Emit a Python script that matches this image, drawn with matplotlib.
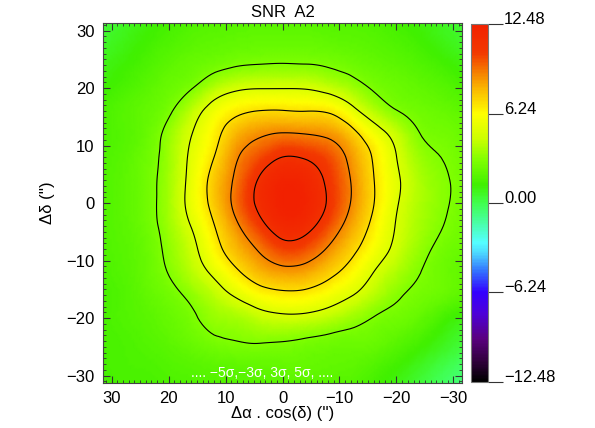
import numpy as np
import matplotlib
matplotlib.use('Agg')
import matplotlib.pyplot as plt
import matplotlib.tri as mtri
from matplotlib.colors import LinearSegmentedColormap, Normalize
from matplotlib.ticker import MultipleLocator

plt.rcParams['font.family'] = ['Liberation Sans', 'DejaVu Sans']

# map nodes (arcsec): ra offset increases to the left on the plot
ra_off = np.arange(-32, 33, 4)
dec_off = np.arange(32, -33, -4)

# SNR values, one row per dec offset (top -> bottom),
# columns follow ra_off (-32 ... +32)
snr_rows = [
    [0.3, 0.65, 1.0, 1.35, 1.6, 1.74, 1.81, 1.86, 1.86, 1.86, 1.83, 1.77, 1.65, 1.35, 1.0, 0.6, 0.3],       # +32
    [0.6, 0.95, 1.35, 1.65, 1.9, 2.04, 2.16, 2.27, 2.28, 2.26, 2.19, 2.09, 1.94, 1.65, 1.3, 0.9, 0.55],      # +28
    [1.0, 1.4, 1.75, 2.03, 2.26, 2.57, 2.89, 3.05, 3.09, 3.04, 2.92, 2.63, 2.32, 2.04, 1.6, 1.2, 0.85],      # +24
    [1.5, 1.9, 2.17, 2.43, 2.87, 3.7, 4.44, 4.89, 4.94, 4.93, 4.73, 4.03, 2.93, 2.37, 1.95, 1.55, 1.15],     # +20
    [2.01, 2.32, 2.57, 3.05, 4.07, 5.6, 6.82, 6.98, 7.06, 7.03, 6.65, 5.72, 4.19, 2.8, 2.19, 1.85, 1.5],     # +16
    [2.3, 2.67, 3.04, 4.4, 5.91, 7.6, 8.69, 9.0, 9.11, 8.77, 8.01, 6.5, 4.95, 3.4, 2.3, 1.82, 1.56],         # +12
    [2.53, 2.98, 3.56, 5.01, 6.85, 8.6, 10.1, 10.85, 11.0, 10.08, 8.88, 7.0, 5.3, 3.55, 2.49, 1.93, 1.64],   # +8
    [2.63, 3.17, 3.89, 5.28, 7.04, 8.97, 10.7, 11.96, 12.2, 11.17, 9.34, 7.55, 5.5, 3.65, 2.56, 2.0, 1.68],  # +4
    [2.63, 3.18, 3.9, 5.15, 7.04, 8.96, 10.85, 12.2, 12.39, 11.38, 9.5, 7.53, 5.55, 3.7, 2.57, 2.0, 1.7],    # 0
    [2.53, 3.03, 3.75, 4.9, 6.6, 8.35, 10.1, 11.54, 11.79, 10.5, 8.8, 6.95, 5.05, 3.55, 2.5, 1.98, 1.67],    # -4
    [2.35, 2.7, 3.45, 4.6, 6.0, 7.45, 8.85, 10.05, 10.3, 9.2, 7.95, 6.35, 4.54, 3.3, 2.35, 1.9, 1.62],       # -8
    [2.15, 2.5, 3.05, 3.9, 5.0, 6.4, 7.5, 8.35, 8.5, 7.95, 6.79, 5.36, 4.08, 3.05, 2.3, 1.82, 1.54],         # -12
    [2.0, 2.38, 2.7, 3.2, 4.1, 5.1, 5.95, 6.54, 6.62, 6.21, 5.25, 4.2, 3.3, 2.6, 2.15, 1.72, 1.45],          # -16
    [1.0, 1.5, 2.2, 2.6, 2.95, 3.6, 4.17, 4.57, 4.63, 4.33, 3.72, 3.45, 2.79, 2.29, 1.95, 1.71, 1.45],       # -20
    [0.4, 0.9, 1.5, 2.0, 2.4, 2.5, 2.65, 2.85, 3.03, 3.1, 3.0, 2.8, 2.4, 2.05, 1.79, 1.57, 1.45],           # -24
    [-0.3, 0.2, 0.8, 1.35, 1.8, 2.1, 2.18, 2.28, 2.29, 2.25, 2.15, 2.08, 1.93, 1.78, 1.6, 1.55, 1.4],        # -28
    [-0.8, -0.3, 0.3, 0.9, 1.4, 1.75, 1.84, 1.89, 1.89, 1.86, 1.79, 1.78, 1.69, 1.56, 1.5, 1.45, 1.3],       # -32
]

contour_levels = [3, 5, 7, 9, 11]
snr_max = 12.48
cbar_ticks = [-12.48, -6.24, 0.0, 6.24, 12.48]
cbar_labels = ['\u221212.48', '\u22126.24', '0.00', '6.24', '12.48']

# IDL-like rainbow colour table
cmap_pos = [0.0, 0.06, 0.12, 0.19, 0.25, 0.31, 0.36, 0.39, 0.46, 0.50, 0.55, 0.62, 0.68, 0.75, 0.82, 0.87, 0.92, 1.0]
cmap_rgb = [(0, 0, 0), (0.2, 0, 0.25), (0.35, 0, 0.5), (0.3, 0, 0.85), (0.2, 0, 1.0),
            (0.2, 0.45, 1.0), (0.3, 0.85, 1.0), (0.33, 1.0, 1.0), (0.27, 1.0, 0.55),
            (0.25, 1.0, 0.3), (0.25, 0.94, 0.0), (0.5, 1.0, 0.0), (0.8, 1.0, 0.0),
            (1.0, 1.0, 0.0), (0.98, 0.72, 0.0), (0.96, 0.48, 0.0), (0.95, 0.22, 0.0), (0.95, 0.13, 0.0)]
cmap = LinearSegmentedColormap.from_list('idl_rainbow', list(zip(cmap_pos, cmap_rgb)), N=256)

snr = np.array(snr_rows)
X, Y = np.meshgrid(ra_off, dec_off)
tri = mtri.Triangulation(X.ravel().astype(float), Y.ravel().astype(float))
interp = mtri.CubicTriInterpolator(tri, snr.ravel(), kind='min_E')
refiner = mtri.UniformTriRefiner(tri)
tri_f, snr_f = refiner.refine_field(snr.ravel(), triinterpolator=interp, subdiv=3)

fig = plt.figure(figsize=(5.95, 4.28), dpi=100)
ax = fig.add_axes([0.1731, 0.1051, 0.6034, 0.8411])
norm = Normalize(-snr_max, snr_max)
ax.tripcolor(tri_f, snr_f, shading='gouraud', cmap=cmap, norm=norm)
ax.tricontour(tri_f, snr_f, levels=contour_levels, colors='k', linewidths=0.8)

ax.set_xlim(31.5, -31.5)
ax.set_ylim(-31.3, 31.3)
ax.set_xticks(np.arange(-30, 31, 10))
ax.set_yticks(np.arange(-30, 31, 10))
ax.xaxis.set_minor_locator(MultipleLocator(1))
ax.yaxis.set_minor_locator(MultipleLocator(1))
ax.tick_params(which='both', direction='in', top=True, right=True, color='#333333')
ax.tick_params(which='major', length=5, width=0.8, labelsize=12, pad=6)
ax.tick_params(which='minor', length=2.5, width=0.6)
for sp in ax.spines.values():
    sp.set_color('#444444')
    sp.set_linewidth(0.8)

ax.set_title('SNR  A2', fontsize=12, pad=4)
ax.set_xlabel("\u0394\u03b1 . cos(\u03b4) ('')", fontsize=12, labelpad=0)
ax.set_ylabel("\u0394\u03b4 ('')", fontsize=12, labelpad=8)
ax.text(3.6, -29.6, '.... \u22125\u03c3,\u22123\u03c3, 3\u03c3, 5\u03c3, ....', color='white',
        fontsize=10, ha='center', va='center')

# colour bar
cax = fig.add_axes([0.7916, 0.1075, 0.0286, 0.8364])
sm = plt.cm.ScalarMappable(norm=norm, cmap=cmap)
cb = fig.colorbar(sm, cax=cax)
cb.outline.set_edgecolor('#777777')
cb.outline.set_linewidth(0.8)
cb.set_ticks(cbar_ticks)
cax.set_yticklabels([])
cax.tick_params(length=11, width=0.8, direction='out', color='#333333')
for v, lab in zip(cbar_ticks, cbar_labels):
    cax.text(1.94, v, lab, transform=cax.get_yaxis_transform(), ha='left', va='baseline',
             fontsize=12)

fig.savefig('out.png', dpi=100)
